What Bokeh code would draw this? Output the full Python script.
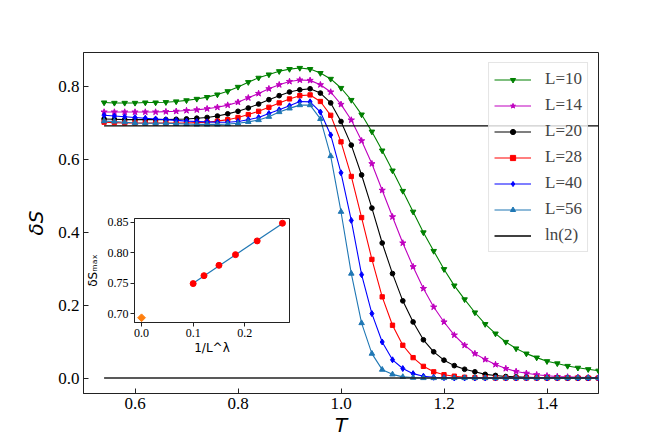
import numpy as np
from bokeh.plotting import figure
from bokeh.models import Legend, LegendItem, FixedTicker, PrintfTickFormatter, Range1d
from bokeh.layouts import column
from bokeh.embed import file_html
from bokeh.resources import INLINE

# ---------------- data ----------------
T = [0.54, 0.56, 0.58, 0.60, 0.62, 0.64, 0.66, 0.68, 0.70, 0.72, 0.74, 0.76, 0.78,
     0.80, 0.82, 0.84, 0.86, 0.88, 0.90, 0.92, 0.94, 0.96, 0.98, 1.00, 1.02, 1.04,
     1.06, 1.08, 1.10, 1.12, 1.14, 1.16, 1.18, 1.20, 1.22, 1.24, 1.26, 1.28, 1.30,
     1.32, 1.34, 1.36, 1.38, 1.40, 1.42, 1.44, 1.46, 1.48, 1.50]

S_L10 = [0.757, 0.756, 0.756, 0.756, 0.757, 0.757, 0.758, 0.760, 0.763, 0.767, 0.772, 0.779, 0.788,
         0.800, 0.813, 0.825, 0.834, 0.843, 0.849, 0.852, 0.849, 0.838, 0.822, 0.797, 0.764, 0.724,
         0.677, 0.625, 0.570, 0.514, 0.457, 0.400, 0.349, 0.299, 0.254, 0.216, 0.180, 0.148, 0.122,
         0.099, 0.081, 0.067, 0.056, 0.046, 0.040, 0.033, 0.028, 0.024, 0.020]

S_L14 = [0.731, 0.731, 0.731, 0.731, 0.731, 0.731, 0.732, 0.733, 0.735, 0.737, 0.740, 0.744, 0.750,
         0.758, 0.770, 0.782, 0.795, 0.806, 0.815, 0.819, 0.818, 0.806, 0.786, 0.752, 0.709, 0.652,
         0.589, 0.516, 0.443, 0.371, 0.306, 0.246, 0.195, 0.154, 0.118, 0.090, 0.067, 0.051, 0.037,
         0.026, 0.018, 0.013, 0.009, 0.006, 0.004, 0.003, 0.002, 0.001, 0.001]

S_L20 = [0.712, 0.711, 0.710, 0.710, 0.710, 0.710, 0.710, 0.711, 0.712, 0.714, 0.716, 0.720, 0.726,
         0.733, 0.742, 0.753, 0.765, 0.776, 0.786, 0.792, 0.795, 0.783, 0.756, 0.705, 0.640, 0.558,
         0.467, 0.371, 0.287, 0.212, 0.154, 0.105, 0.072, 0.049, 0.034, 0.024, 0.017, 0.010, 0.007,
         0.004, 0.003, 0.002, 0.001, 0.001, 0.001, 0.000, 0.000, 0.000, 0.000]

S_L28 = [0.703, 0.702, 0.701, 0.701, 0.701, 0.701, 0.701, 0.701, 0.701, 0.702, 0.703, 0.706, 0.710,
         0.716, 0.724, 0.733, 0.744, 0.756, 0.767, 0.776, 0.778, 0.760, 0.722, 0.649, 0.554, 0.441,
         0.326, 0.223, 0.145, 0.090, 0.056, 0.032, 0.017, 0.009, 0.005, 0.002, 0.001, 0.001, 0.000,
         0.000, 0.000, 0.000, 0.000, 0.000, 0.000, 0.000, 0.000, 0.000, 0.000]

S_L40 = [0.722, 0.720, 0.718, 0.716, 0.714, 0.712, 0.710, 0.708, 0.706, 0.705, 0.704, 0.703, 0.703,
         0.705, 0.710, 0.716, 0.727, 0.737, 0.748, 0.760, 0.759, 0.731, 0.668, 0.564, 0.433, 0.284,
         0.177, 0.099, 0.050, 0.026, 0.012, 0.005, 0.002, 0.001, 0.000, 0.000, 0.000, 0.000, 0.000,
         0.000, 0.000, 0.000, 0.000, 0.000, 0.000, 0.000, 0.000, 0.000, 0.000]

S_L56 = [0.706, 0.705, 0.703, 0.701, 0.700, 0.700, 0.700, 0.699, 0.698, 0.697, 0.697, 0.697, 0.698,
         0.700, 0.704, 0.709, 0.718, 0.731, 0.741, 0.750, 0.750, 0.712, 0.610, 0.457, 0.287, 0.151,
         0.067, 0.023, 0.010, 0.003, 0.001, 0.000, 0.000, 0.000, 0.000, 0.000, 0.000, 0.000, 0.000,
         0.000, 0.000, 0.000, 0.000, 0.000, 0.000, 0.000, 0.000, 0.000, 0.000]

LN2 = 0.6931
series_labels = ["L=10", "L=14", "L=20", "L=28", "L=40", "L=56"]

# inset data: 1/L^lambda vs peak height
inv_L = [0.273, 0.224, 0.182, 0.150, 0.121, 0.100]
S_max = [0.848, 0.819, 0.7965, 0.779, 0.762, 0.749]
extrap_x = [0.0]
extrap_y = [0.693]

x_ticks = [0.6, 0.8, 1.0, 1.2, 1.4]
y_ticks = [0.0, 0.2, 0.4, 0.6, 0.8]
inset_x_ticks = [0.0, 0.1, 0.2]
inset_y_ticks = [0.70, 0.75, 0.80, 0.85]

# ---------------- main figure ----------------
all_vals = S_L10 + S_L14 + S_L20 + S_L28 + S_L40 + S_L56
lo, hi = min(all_vals), max(all_vals)
pad = 0.05 * (hi - lo)

BL, BR = 83, 50  # main side borders (inset gets aligned to them by the column)

p = figure(frame_width=515, frame_height=341,
           x_range=Range1d(0.5, 1.5), y_range=Range1d(lo - pad, hi + pad),
           min_border_left=BL, min_border_top=52, min_border_right=BR, min_border_bottom=42,
           output_backend="svg", toolbar_location=None)
p.grid.visible = False
p.outline_line_color = "#222222"
p.outline_line_width = 1
p.background_fill_color = "white"
p.border_fill_color = "white"

for ax in (p.xaxis[0], p.yaxis[0]):
    ax.major_tick_in = 5
    ax.major_tick_out = 0
    ax.minor_tick_in = 0
    ax.minor_tick_out = 0
    ax.axis_line_color = "#222222"
    ax.major_tick_line_color = "#222222"
    ax.major_label_text_font = "Liberation Serif"
    ax.major_label_text_font_size = "17px"
    ax.major_label_text_color = "black"
    ax.axis_label_text_font = "DejaVu Sans"
    ax.axis_label_text_font_style = "italic"
    ax.axis_label_text_font_size = "20px"
    ax.axis_label_text_color = "black"
    ax.major_label_standoff = 4
    ax.formatter = PrintfTickFormatter(format="%.1f")

p.xaxis.ticker = FixedTicker(ticks=x_ticks)
p.yaxis.ticker = FixedTicker(ticks=y_ticks)
p.xaxis.axis_label = "T"
p.yaxis.axis_label = "δS"
p.xaxis.axis_label_standoff = 1
p.yaxis.axis_label_standoff = 7

styles = [
    ("green", "inverted_triangle", 5.5),
    ("#bf00bf", "star", 6.5),
    ("black", "circle", 4.7),
    ("red", "square", 4.3),
    ("blue", "diamond", 6),
    ("#1f77b4", "triangle", 5.5),
]
series = [S_L10, S_L14, S_L20, S_L28, S_L40, S_L56]

items = []
for lab, ys, (col, mk, sz) in zip(series_labels, series, styles):
    lr = p.line(T, ys, line_color=col, line_width=1.1)
    sr = p.scatter(T, ys, marker=mk, size=sz, fill_color=col, line_color=col)
    items.append(LegendItem(label=lab, renderers=[lr, sr]))

ln_r = p.line([T[0], T[-1]], [LN2, LN2], line_color="black", line_width=1.3)
p.line([T[0], T[-1]], [0.0, 0.0], line_color="#222222", line_width=1.3)
items.append(LegendItem(label="ln(2)", renderers=[ln_r]))

legend = Legend(items=items, location="top_right", margin=10, padding=5,
                spacing=4, glyph_width=37, glyph_height=13, label_height=22,
                label_standoff=14, label_text_font="Liberation Serif",
                label_text_font_size="17px", border_line_color="#cccccc",
                border_line_width=1, background_fill_color="white",
                background_fill_alpha=0.8)
p.add_layout(legend)

# ---------------- inset ----------------
ix_lo, ix_hi = min(inv_L + extrap_x), max(inv_L + extrap_x)
iy_lo, iy_hi = min(S_max + extrap_y), max(S_max + extrap_y)
ixp = 0.05 * (ix_hi - ix_lo)
iyp = 0.05 * (iy_hi - iy_lo)

inset = figure(frame_width=155, frame_height=104,
               x_range=Range1d(ix_lo - ixp, ix_hi + ixp),
               y_range=Range1d(iy_lo - iyp, iy_hi + iyp),
               min_border_left=BL, min_border_top=4, min_border_right=BR, min_border_bottom=38,
               output_backend="svg", toolbar_location=None)
inset.grid.visible = False
inset.outline_line_color = "#222222"
inset.border_fill_alpha = 0.0
inset.background_fill_color = "white"
for ax in (inset.xaxis[0], inset.yaxis[0]):
    ax.major_tick_in = 0
    ax.major_tick_out = 4
    ax.minor_tick_in = 0
    ax.minor_tick_out = 0
    ax.axis_line_color = "#222222"
    ax.major_tick_line_color = "#222222"
    ax.major_label_text_font = "Liberation Serif"
    ax.major_label_text_font_size = "12px"
    ax.major_label_text_color = "black"
    ax.major_label_standoff = 2
    ax.axis_label_text_font = "DejaVu Sans"
    ax.axis_label_text_font_style = "normal"
    ax.axis_label_text_font_size = "12px"
    ax.axis_label_text_color = "black"
inset.xaxis.axis_label_standoff = 1
inset.yaxis.axis_label_standoff = 5
inset.xaxis.ticker = FixedTicker(ticks=inset_x_ticks)
inset.yaxis.ticker = FixedTicker(ticks=inset_y_ticks)
inset.xaxis.formatter = PrintfTickFormatter(format="%.1f")
inset.yaxis.formatter = PrintfTickFormatter(format="%.2f")
inset.xaxis.axis_label = "1/L^λ"
inset.yaxis.axis_label = "δSₘₐₓ"

coef = np.polyfit(inv_L, S_max, 1)
fx = [min(inv_L), max(inv_L)]
fy = [coef[0] * v + coef[1] for v in fx]
inset.line(fx, fy, line_color="#1f77b4", line_width=1.2)
inset.scatter(inv_L, S_max, marker="circle", size=6, fill_color="red", line_color="red")
inset.scatter(extrap_x, extrap_y, marker="square", angle=np.pi / 4, size=5.5,
              fill_color="#ff7f0e", line_color="#ff7f0e")

# inset frame at page x=134, y=218.5 -> host offset = frame pos - borders
inset.styles = {"position": "absolute", "left": "%dpx" % (134 - BL), "top": "214px", "z-index": "5"}

root = column(p, inset)
open("out.html", "w").write(file_html(root, INLINE))
